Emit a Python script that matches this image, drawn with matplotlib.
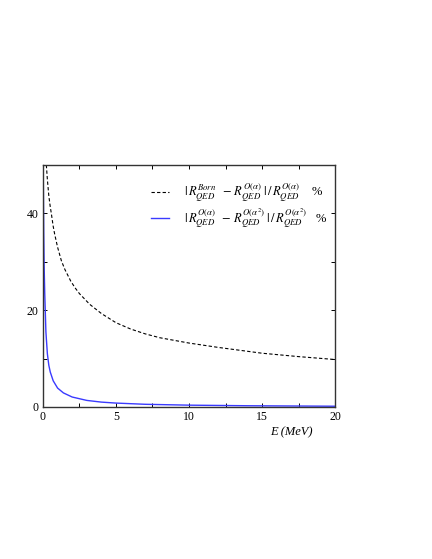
import matplotlib
matplotlib.use("Agg")
import matplotlib.pyplot as plt
import matplotlib.ticker as mticker

# values (E in MeV, ratios in %)
e_born = [0.23, 0.3, 0.4, 0.5, 0.57, 0.7, 0.8, 1.0, 1.26, 1.5, 1.9, 2.2, 2.5,
          3.2, 4.0, 5.0, 6.0, 7.0, 8.0, 10.0, 12.0, 15.0, 17.5, 20.0]
diff_born = [50.0, 47.0, 43.6, 41.3, 40.0, 37.3, 35.7, 33.0, 30.2, 28.4, 26.0,
             24.6, 23.4, 21.2, 19.3, 17.4, 16.1, 15.1, 14.3, 13.2, 12.3, 11.1,
             10.4, 9.8]

e_alpha = [0.01, 0.03, 0.05, 0.08, 0.12, 0.2, 0.3, 0.4, 0.5, 0.7, 1.0, 1.4,
           2.0, 3.0, 4.0, 5.0, 7.0, 10.0, 14.0, 20.0]
diff_alpha = [50.0, 44.0, 36.0, 29.0, 23.5, 15.5, 11.0, 8.6, 7.2, 5.4, 3.9,
              2.9, 2.05, 1.35, 1.0, 0.8, 0.55, 0.37, 0.25, 0.15]

label_born = r"$|\,R^{Born}_{QED}\;\;-\,R^{O(\alpha)}_{QED}\;|\,/\,R^{O(\alpha)}_{QED}$    %"
label_alpha = r"$|\,R^{O(\alpha)}_{QED}\;\;-\,R^{O(\alpha^2)}_{QED}\;|\,/\,R^{O(\alpha^2)}_{QED}$   %"


def main() -> None:
    plt.rcParams["font.family"] = ["Liberation Serif", "DejaVu Serif"]
    plt.rcParams["mathtext.fontset"] = "stix"

    fig = plt.figure(figsize=(4.32, 5.59), dpi=100)
    ax = fig.add_axes([0.0995, 0.272, 0.676, 0.433])

    ax.plot(e_born, diff_born, color="black", linestyle=(0, (3, 2)), linewidth=0.8,
            label=label_born)
    ax.plot(e_alpha, diff_alpha, color="#3a3aff", linewidth=1.0, label=label_alpha)

    ax.set_xlim(0, 20)
    ax.set_ylim(0, 50)
    ax.xaxis.set_major_locator(mticker.MultipleLocator(5))
    ax.xaxis.set_minor_locator(mticker.MultipleLocator(2.5))
    ax.yaxis.set_major_locator(mticker.MultipleLocator(20))
    ax.yaxis.set_minor_locator(mticker.MultipleLocator(10))
    ax.tick_params(which="both", direction="in", top=True, right=True,
                   length=3, width=0.7, labelsize=8.5, pad=3)
    for sp in ax.spines.values():
        sp.set_linewidth(1.0)
        sp.set_color("#333333")

    ax.set_xlabel("E (MeV)", fontsize=9, style="italic")
    ax.xaxis.set_label_coords(0.925, -0.08)
    ax.xaxis.label.set_horizontalalignment("right")

    ax.legend(loc="upper left", bbox_to_anchor=(0.33, 0.975), frameon=False,
              fontsize=9, handlelength=1.5, handletextpad=1.2, labelspacing=0.15)

    fig.savefig("out.png", dpi=100)


if __name__ == "__main__":
    main()
